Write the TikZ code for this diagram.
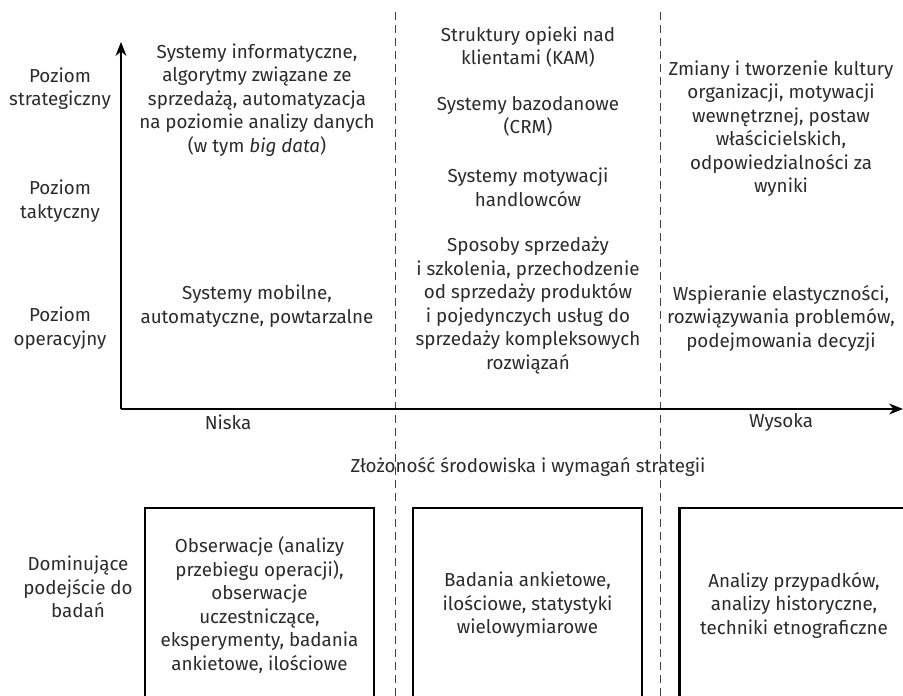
\documentclass[tikz,border=0pt]{standalone}
\usepackage{fontspec}
\setmainfont{Fira Sans}
\usetikzlibrary{arrows.meta}
\definecolor{ink}{HTML}{2B2B2B}
\definecolor{sep}{HTML}{404040}
\begin{document}
\begin{tikzpicture}[x=1pt,y=-1pt,
  txt/.style={text=ink,align=center,inner sep=0pt,
    font=\fontsize{18.8}{23.5}\selectfont},
  axis/.style={line width=1.2pt,draw=black,-{Stealth[length=14pt,width=11pt]}},
  divider/.style={draw=sep,line width=1pt,dash pattern=on 8pt off 5pt},
  methodbox/.style={txt,draw=black,line width=2.5pt,minimum width=229pt,
    minimum height=194pt}]
\useasboundingbox (0,0) rectangle (903,696);
\clip (0,0) rectangle (903,696);

% column dividers
\coordinate (d1t) at (395,12);  \coordinate (d1b) at (395,700);
\coordinate (d2t) at (660,12);  \coordinate (d2b) at (660,700);
\draw[divider] (d1t) -- (d1b);
\draw[divider] (d2t) -- (d2b);

% axes
\coordinate (o) at (121,409);
\coordinate (ytip) at (121,42);
\coordinate (xtip) at (903,409);
\draw[axis] (o) -- (ytip);
\draw[axis] (o) -- (xtip);

% level labels
\node[txt] (lstr) at (60,88.5) {Poziom\\strategiczny};
\node[txt] (ltak) at (60,201) {Poziom\\taktyczny};
\node[txt] (lope) at (60,328) {Poziom\\operacyjny};

% low complexity column
\node[txt] (c1s) at (257,100) {Systemy informatyczne,\\algorytmy związane ze\\sprzedażą, automatyzacja\\na poziomie analizy danych\\(w tym \textit{big data})};
\node[txt] (c1o) at (257,306) {Systemy mobilne,\\automatyczne, powtarzalne};

% medium complexity column
\node[txt] (c2a) at (528,47) {Struktury opieki nad\\klientami (KAM)};
\node[txt] (c2b) at (528,116.5) {Systemy bazodanowe\\(CRM)};
\node[txt] (c2c) at (528,187.5) {Systemy motywacji\\handlowców};
\node[txt] (c2d) at (528,305.5) {Sposoby sprzedaży\\i szkolenia, przechodzenie\\od sprzedaży produktów\\i pojedynczych usług do\\sprzedaży kompleksowych\\rozwiązań};

% high complexity column
\node[txt] (c3s) at (781,128.5) {Zmiany i tworzenie kultury\\organizacji, motywacji\\wewnętrznej, postaw\\właścicielskich,\\odpowiedzialności za\\wyniki};
\node[txt] (c3o) at (781,318) {Wspieranie elastyczności,\\rozwiązywania problemów,\\podejmowania decyzji};

% axis labels
\node[txt] (low) at (228,422) {Niska};
\node[txt] (high) at (781,422) {Wysoka};
\node[txt] (xlab) at (528,467) {Złożoność środowiska i wymagań strategii};

% research approaches
\node[txt] (rlab) at (78,587) {Dominujące\\podejście do\\badań};
\node[methodbox] (m1) at (259.5,605) {Obserwacje (analizy\\przebiegu operacji),\\obserwacje\\uczestniczące,\\eksperymenty, badania\\ankietowe, ilościowe};
\node[methodbox] (m2) at (527.5,605) {Badania ankietowe,\\ilościowe, statystyki\\wielowymiarowe};
\node[methodbox] (m3) at (794,605) {Analizy przypadków,\\analizy historyczne,\\techniki etnograficzne};
\end{tikzpicture}
\end{document}
